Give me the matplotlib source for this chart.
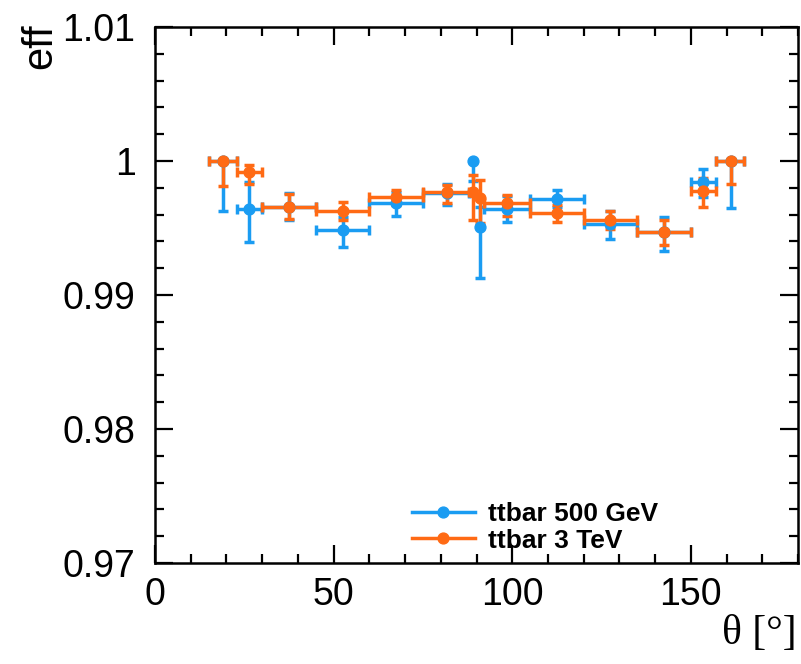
import matplotlib.pyplot as plt
from matplotlib.lines import Line2D
from matplotlib.ticker import MultipleLocator, FuncFormatter

# bin edges in theta [deg] (low, high) and efficiencies
bin_lo = [15, 23, 30, 45, 60, 75, 88, 90, 92, 105, 120, 135, 150, 157]
bin_hi = [23, 30, 45, 60, 75, 88, 90, 92, 105, 120, 135, 150, 157, 165]
theta = [19, 26.3, 37.5, 52.5, 67.5, 81.7, 89, 91, 98.5, 112.5, 127.5, 142.5, 153.4, 161.2]

eff_500 = [1.0, 0.99642, 0.99660, 0.99485, 0.99687, 0.99765, 1.0, 0.99507,
           0.99642, 0.99716, 0.99530, 0.99470, 0.99843, 1.0]
err_lo_500 = [0.0037, 0.0025, 0.0010, 0.0013, 0.0010, 0.0009, 0.0015, 0.0038,
              0.0010, 0.0006, 0.0011, 0.0014, 0.0011, 0.0035]
err_hi_500 = [0.0, 0.0020, 0.0010, 0.0010, 0.0008, 0.0006, 0.0, 0.0015,
              0.0010, 0.0007, 0.0010, 0.0011, 0.0010, 0.0]

eff_3tev = [1.0, 0.99918, 0.99655, 0.99627, 0.99731, 0.99769, 0.99769, 0.99725,
            0.99687, 0.99612, 0.99560, 0.99470, 0.99776, 1.0]
err_lo_3tev = [0.0019, 0.0009, 0.0009, 0.0007, 0.0006, 0.0008, 0.0021, 0.0019,
               0.0010, 0.0007, 0.0007, 0.0010, 0.0012, 0.0017]
err_hi_3tev = [0.0, 0.0005, 0.0010, 0.0007, 0.0005, 0.0005, 0.0013, 0.0013,
               0.0006, 0.0006, 0.0007, 0.0009, 0.0010, 0.0]

BLUE = "#1a9cf2"
ORANGE = "#ff6a14"
LW = 2.5
CAP = 7.5
MS = 7.8

plt.rcParams['font.family'] = ['Liberation Sans', 'DejaVu Sans']

fig = plt.figure(figsize=(8.01, 6.64), dpi=100)
ax = fig.add_axes([0.1935, 0.1521, 0.8028, 0.8072])


def draw(eff, lo, hi, color):
    xerr = [[t - a for t, a in zip(theta, bin_lo)], [b - t for t, b in zip(theta, bin_hi)]]
    ax.errorbar(theta, eff, xerr=xerr, yerr=[lo, hi], fmt='o', color=color,
                markersize=MS, elinewidth=LW, capsize=0)
    # caps only where the error is non zero (ROOT style)
    ys = [e - l for e, l in zip(eff, lo) if l > 0] + [e + h for e, h in zip(eff, hi) if h > 0]
    xs = [t for t, l in zip(theta, lo) if l > 0] + [t for t, h in zip(theta, hi) if h > 0]
    ax.plot(xs, ys, ls='none', marker='_', ms=CAP, mew=LW, color=color)
    wide = [i for i in range(len(theta)) if bin_hi[i] - bin_lo[i] > 4]
    cx = [bin_lo[i] for i in wide] + [bin_hi[i] for i in wide]
    cy = [eff[i] for i in wide] * 2
    ax.plot(cx, cy, ls='none', marker='|', ms=CAP, mew=LW, color=color)


draw(eff_500, err_lo_500, err_hi_500, BLUE)
draw(eff_3tev, err_lo_3tev, err_hi_3tev, ORANGE)

ax.set_xlim(0, 180)
ax.set_ylim(0.97, 1.01)
ax.xaxis.set_major_locator(MultipleLocator(50))
ax.xaxis.set_minor_locator(MultipleLocator(10))
ax.yaxis.set_major_locator(MultipleLocator(0.01))
ax.yaxis.set_minor_locator(MultipleLocator(0.002))
ax.yaxis.set_major_formatter(FuncFormatter(lambda v, p: f"{v:.2f}".rstrip('0').rstrip('.')))

ax.tick_params(which='both', direction='in', top=True, right=True, width=1.6,
               labelsize=27)
ax.tick_params(which='major', length=13)
ax.tick_params(which='minor', length=6.5)
ax.tick_params(axis='y', pad=14)
ax.tick_params(axis='x', pad=10)
for s in ax.spines.values():
    s.set_linewidth(1.8)

fig.text(0.025, 0.965, "eff", rotation=90, ha='left', va='top', fontsize=30)
fig.text(0.995, 0.045, "θ [°]", ha='right', va='center', fontsize=30,
         family=['Liberation Serif', 'DejaVu Serif'])

handles = [Line2D([], [], color=BLUE, lw=LW, marker='o', ms=MS),
           Line2D([], [], color=ORANGE, lw=LW, marker='o', ms=MS)]
ax.legend(handles, ["ttbar 500 GeV", "ttbar 3 TeV"], loc='lower left',
          bbox_to_anchor=(0.362, -0.025), frameon=False,
          prop={'weight': 'bold', 'size': 19}, handlelength=2.4,
          handletextpad=0.5, labelspacing=0.1)

fig.savefig("out.png", dpi=100)
